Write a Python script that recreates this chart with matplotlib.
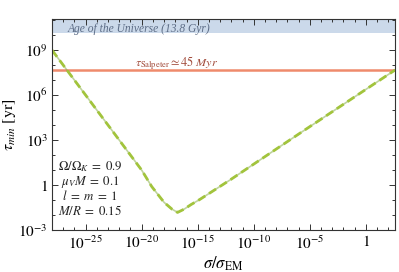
import numpy as np
import matplotlib
matplotlib.use('Agg')
from matplotlib import pyplot as plt
from matplotlib.ticker import FixedLocator, NullFormatter

plt.rcParams['font.family'] = ['Liberation Serif', 'DejaVu Serif']
plt.rcParams['mathtext.fontset'] = 'stix'

# curve (log10 values)
log_sigma = [-28.0, -24.7, -20.0, -19.1, -18.0, -17.3, -16.8, -16.2, -15.6,
             -14.8, -12.1, -8.7, -5.6, 2.6]
log_tau = [9.0, 5.7, 1.0, -0.1, -1.15, -1.6, -1.82, -1.6, -1.3,
           -0.95, 0.35, 2.05, 3.6, 7.67]

tau_salpeter = 4.5e7     # yr
age_universe = 1.38e10   # yr

xticks = [1e-25, 1e-20, 1e-15, 1e-10, 1e-5, 1]
xticklabels = [r'$10^{-25}$', r'$10^{-20}$', r'$10^{-15}$', r'$10^{-10}$', r'$10^{-5}$', r'$1$']
yticks = [1e-3, 1, 1e3, 1e6, 1e9]
yticklabels = [r'$10^{-3}$', r'$1$', r'$10^{3}$', r'$10^{6}$', r'$10^{9}$']

params = [r'$\Omega/\Omega_K\;=\;0.9$', r'$\mu_V M\;=\;0.1$',
          r'$l\;=\;m\;=\;1$', r'$M/R\;=\;0.15$']

def main():
    fig = plt.figure(figsize=(3.99, 2.72), dpi=100)
    ax = fig.add_axes([0.1303, 0.154, 0.8597, 0.776])

    xlim = (1e-28, 10**2.6)
    ylim = (1e-3, 10**11.07)

    ax.axhspan(age_universe, ylim[1], color='#cbd9ea', lw=0)
    ax.axhline(tau_salpeter, color='#ef8a6c', lw=1.8)

    sigma = 10**np.array(log_sigma)
    tau = 10**np.array(log_tau)
    ax.plot(sigma, tau, color='#7fa83a', lw=1.2, alpha=0.5)
    ax.plot(sigma, tau, color='#a2c43c', lw=2.0, dashes=(3, 1.6))

    ax.set_xscale('log')
    ax.set_yscale('log')
    ax.set_xlim(*xlim)
    ax.set_ylim(*ylim)

    ax.xaxis.set_major_locator(FixedLocator(xticks))
    ax.set_xticklabels(xticklabels)
    ax.xaxis.set_minor_locator(FixedLocator([10.0**k for k in range(-28, 3)]))
    ax.xaxis.set_minor_formatter(NullFormatter())
    ax.yaxis.set_major_locator(FixedLocator(yticks))
    ax.set_yticklabels(yticklabels)
    ax.yaxis.set_minor_locator(FixedLocator([10.0**k for k in range(-3, 12)]))
    ax.yaxis.set_minor_formatter(NullFormatter())

    ax.tick_params(which='both', direction='in', top=True, right=True,
                   labelsize=11, color='#333333', width=0.7)
    ax.tick_params(which='major', length=4.5, pad=3)
    ax.tick_params(which='minor', length=2.5)
    for s in ax.spines.values():
        s.set_color('#333333')
        s.set_linewidth(0.8)

    ax.set_xlabel(r'$\sigma/\sigma_{\rm EM}$', fontsize=12, labelpad=2)
    ax.set_ylabel(r'$\tau_{min}\ [{\rm yr}]$', fontsize=11.5, labelpad=0)

    ax.text(0.253, 0.952, 'Age of the Universe (13.8 Gyr)', transform=ax.transAxes,
            ha='center', va='center', style='italic', fontsize=8.3, color='#5c6c86')
    ax.text(0.363, 0.79, r'$\tau_{\rm Salpeter} \simeq 45\ Myr$', transform=ax.transAxes,
            ha='center', va='center', fontsize=8.8, color='#a24c3c')

    ys = [166.7, 182, 196, 210.7]
    for t, yp in zip(params, ys):
        ax.text(0.111, (230 - yp) / 211.0, t, transform=ax.transAxes,
                ha='center', va='center', fontsize=9.3, color='#222222')

    fig.savefig('out.png', dpi=100)

if __name__ == '__main__':
    main()
